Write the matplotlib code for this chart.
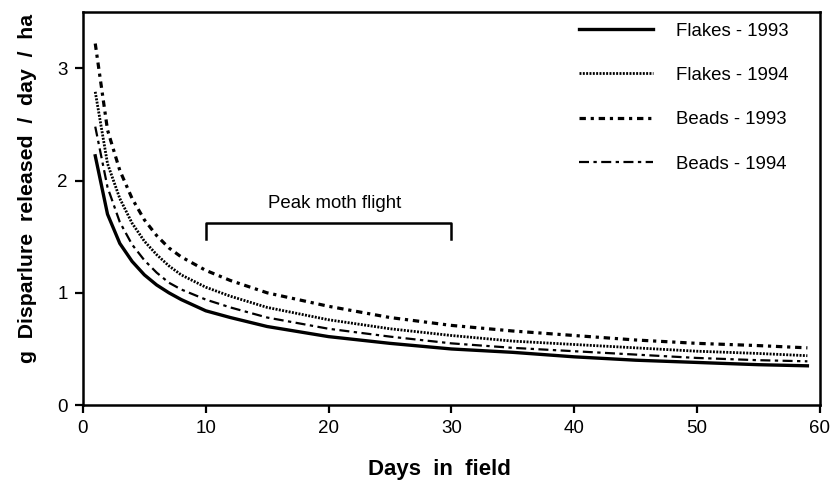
import matplotlib
matplotlib.use('Agg')
import matplotlib.pyplot as plt

plt.rcParams['font.family'] = ['Liberation Sans', 'DejaVu Sans']

days = [1, 2, 3, 4, 5, 6, 7, 8, 10, 12, 15, 20, 25, 30, 35, 40, 45, 50, 55, 59]

flakes_1993 = [2.22, 1.70, 1.44, 1.28, 1.16, 1.07, 1.00, 0.94, 0.84, 0.78, 0.70, 0.61, 0.55, 0.50, 0.47, 0.43, 0.40, 0.38, 0.36, 0.35]
flakes_1994 = [2.79, 2.15, 1.84, 1.62, 1.46, 1.34, 1.24, 1.16, 1.05, 0.97, 0.87, 0.76, 0.68, 0.62, 0.57, 0.54, 0.51, 0.48, 0.46, 0.44]
beads_1993 = [3.22, 2.45, 2.09, 1.84, 1.65, 1.51, 1.40, 1.32, 1.20, 1.11, 1.00, 0.88, 0.78, 0.71, 0.66, 0.62, 0.58, 0.55, 0.53, 0.51]
beads_1994 = [2.48, 1.94, 1.63, 1.43, 1.29, 1.18, 1.09, 1.03, 0.94, 0.87, 0.78, 0.68, 0.61, 0.55, 0.51, 0.48, 0.45, 0.42, 0.40, 0.39]

peak_start, peak_end = 10, 30

fig = plt.figure(figsize=(8.33, 4.84), dpi=100)
ax = fig.add_axes([0.0996, 0.163, 0.8844, 0.812])

ax.plot(days, flakes_1993, color='black', lw=2.4, ls='-', label='Flakes - 1993')
ax.plot(days, flakes_1994, color='black', lw=2.0, ls=(0, (0.7, 0.5)), label='Flakes - 1994')
ax.plot(days, beads_1993, color='black', lw=2.3, ls=(0, (2.0, 1.5, 1.0, 1.5)), label='Beads - 1993')
ax.plot(days, beads_1994, color='black', lw=1.6, ls=(0, (4.5, 2.0, 1.5, 2.0)), label='Beads - 1994')

# peak moth flight bracket
ax.plot([peak_start, peak_start, peak_end, peak_end], [1.48, 1.62, 1.62, 1.48], color='black', lw=1.8)
ax.text(20.5, 1.755, 'Peak moth flight', ha='center', va='baseline', fontsize=13.4)

ax.set_xlim(0, 60)
ax.set_ylim(0, 3.5)
ax.set_xticks([0, 10, 20, 30, 40, 50, 60])
ax.set_yticks([0, 1, 2, 3])
ax.tick_params(direction='out', length=6, width=1.6, labelsize=13.5, pad=5)
for s in ax.spines.values():
    s.set_linewidth(1.8)

ax.set_xlabel('Days  in  field', fontsize=16, fontweight='bold')
ax.set_ylabel('g  Disparlure  released  /  day  /  ha', fontsize=15.3, fontweight='bold')
ax.xaxis.set_label_coords(0.4844, -0.136)
ax.yaxis.set_label_coords(-0.0624, 0.552)

ax.legend(loc='upper right', bbox_to_anchor=(0.9674, 0.9924), frameon=False, fontsize=13.4,
          handlelength=4.0, handletextpad=1.2, labelspacing=1.47, borderaxespad=0)

fig.savefig('out.png', dpi=100)
